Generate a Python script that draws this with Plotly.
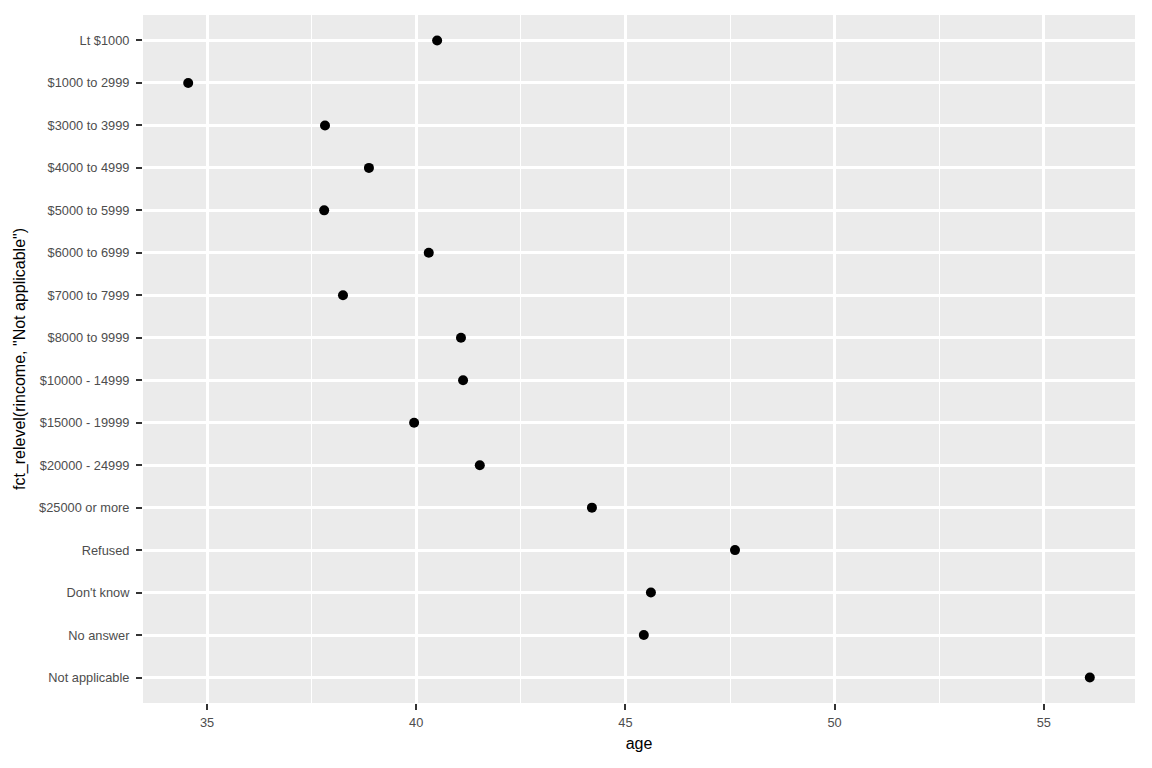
import plotly.graph_objects as go

# income categories, top to bottom as shown
rincome = ["Lt $1000", "$1000 to 2999", "$3000 to 3999", "$4000 to 4999",
           "$5000 to 5999", "$6000 to 6999", "$7000 to 7999", "$8000 to 9999",
           "$10000 - 14999", "$15000 - 19999", "$20000 - 24999", "$25000 or more",
           "Refused", "Don't know", "No answer", "Not applicable"]
# mean age per category
age = [40.50, 34.55, 37.82, 38.87,
       37.80, 40.30, 38.25, 41.07,
       41.12, 39.95, 41.52, 44.20,
       47.62, 45.61, 45.44, 56.10]

x_ticks = [35, 40, 45, 50, 55]

fig = go.Figure()
fig.add_trace(go.Scatter(x=age, y=rincome, mode="markers",
                         marker=dict(color="black", size=10),
                         showlegend=False, hoverinfo="skip"))

# page body has an 8px margin, so the figure is a bit smaller than the window
fig.update_layout(
    width=1144, height=760,
    paper_bgcolor="white", plot_bgcolor="#EBEBEB",
    margin=dict(l=135, r=17, t=7, b=65),
    font=dict(family="Liberation Sans, Arial, sans-serif"),
)

fig.update_xaxes(
    range=[33.47, 57.18], tickvals=x_ticks, ticktext=[str(v) for v in x_ticks],
    showgrid=True, gridcolor="white", gridwidth=2.5,
    minor=dict(showgrid=True, gridcolor="white", gridwidth=1.3, dtick=2.5, tick0=0),
    ticks="outside", ticklen=6, tickwidth=2.2, tickcolor="#333333",
    tickfont=dict(size=12.8, color="#4D4D4D"), ticklabelstandoff=2,
    zeroline=False, showline=False,
    title=dict(text="age", font=dict(size=16, color="black"), standoff=8),
)

fig.update_yaxes(
    type="category", categoryorder="array", categoryarray=rincome,
    range=[len(rincome) - 0.4, -0.6],
    showgrid=True, gridcolor="white", gridwidth=2.5,
    ticks="outside", ticklen=6, tickwidth=2.2, tickcolor="#333333",
    tickfont=dict(size=12.8, color="#4D4D4D"), ticklabelstandoff=4,
    zeroline=False, showline=False,
    title=dict(text='fct_relevel(rincome, "Not applicable")',
               font=dict(size=16, color="black"), standoff=9),
)

fig.write_html("out.html")
